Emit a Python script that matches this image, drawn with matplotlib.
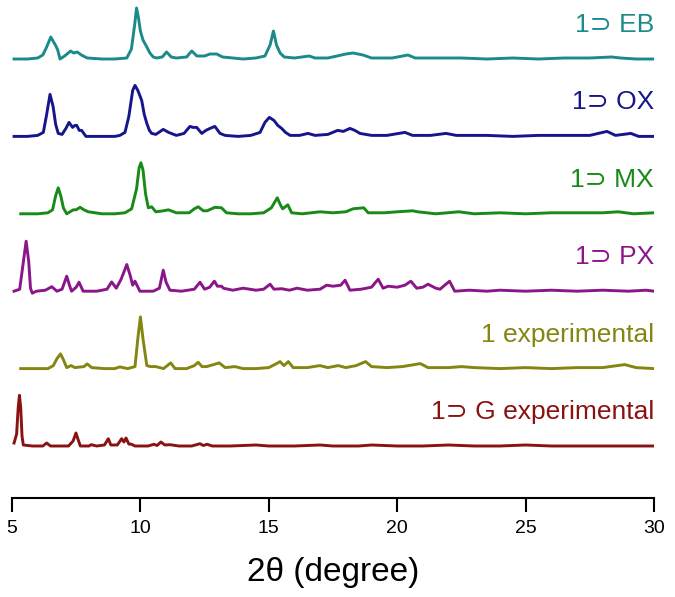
import matplotlib
matplotlib.use("Agg")
import matplotlib.pyplot as plt

plt.rcParams['font.family'] = ['Liberation Sans', 'DejaVu Sans']

# pattern labels, top to bottom
labels = ["1\u2283 EB", "1\u2283 OX", "1\u2283 MX", "1\u2283 PX", "1 experimental", "1\u2283 G experimental"]
colors = ["#1b8a8a", "#16168c", "#178a17", "#8a168a", "#858512", "#8a1212"]

# (2theta, intensity a.u.)
eb = [(5.08, 0), (5.6, 0), (6.0, 1), (6.2, 4), (6.35, 12), (6.51, 22), (6.62, 17), (6.71, 13), (6.78, 9),
      (6.87, 0), (7.05, 3), (7.28, 8), (7.4, 6), (7.54, 7), (7.7, 4), (7.93, 1), (8.5, 0), (9.0, 0),
      (9.47, 1), (9.65, 10), (9.78, 35), (9.85, 51), (9.92, 42), (10.0, 28), (10.1, 19), (10.25, 12),
      (10.37, 6), (10.5, 2), (10.63, 1), (10.85, 2), (11.02, 7), (11.2, 2), (11.4, 1), (11.8, 2), (12.0, 8),
      (12.2, 3), (12.5, 3), (12.71, 5), (12.97, 5), (13.2, 2), (13.6, 1), (14.0, 0), (14.5, 1), (14.85, 3),
      (15.05, 14), (15.18, 28), (15.3, 14), (15.44, 6), (15.6, 2), (16.0, 1), (16.57, 3), (16.8, 1),
      (17.3, 1), (17.66, 3), (18.0, 5), (18.28, 6), (18.67, 4), (19.0, 1), (19.8, 1), (20.42, 4), (20.7, 1),
      (21.5, 1), (22.5, 1), (23.5, 0), (24.5, 1), (25.5, 0), (26.5, 1), (27.5, 1), (28.35, 2), (28.7, 1),
      (29.3, 0), (30.0, 0)]

ox = [(5.08, 0), (5.6, 0), (6.0, 1), (6.22, 4), (6.35, 22), (6.48, 42), (6.6, 30), (6.7, 12), (6.8, 3),
      (6.95, 2), (7.1, 8), (7.22, 14), (7.36, 9), (7.45, 11), (7.52, 11), (7.62, 6), (7.71, 6), (7.88, 0),
      (8.5, 0), (9.0, 0), (9.2, 1), (9.4, 4), (9.55, 20), (9.7, 46), (9.79, 51), (9.9, 46), (10.05, 36),
      (10.15, 22), (10.25, 13), (10.35, 6), (10.44, 3), (10.6, 2), (10.89, 7), (11.1, 4), (11.4, 1),
      (11.7, 3), (11.93, 10), (12.05, 9), (12.19, 9), (12.39, 3), (12.55, 6), (12.71, 8), (12.9, 10),
      (13.1, 3), (13.3, 1), (13.8, 0), (14.3, 1), (14.66, 4), (14.85, 14), (15.02, 19), (15.2, 16),
      (15.35, 11), (15.5, 8), (15.65, 4), (15.83, 1), (16.2, 1), (16.53, 3), (16.8, 1), (17.3, 2),
      (17.68, 6), (17.9, 5), (18.16, 8), (18.35, 6), (18.55, 3), (19.0, 1), (19.6, 1), (20.3, 4), (20.6, 1),
      (21.3, 1), (21.9, 3), (22.3, 1), (23.5, 1), (24.5, 0), (25.5, 1), (26.5, 1), (27.5, 1), (28.17, 5),
      (28.5, 1), (29.1, 3), (29.4, 0), (30.0, 0)]

mx = [(5.34, 0), (6.0, 0), (6.4, 1), (6.58, 4), (6.7, 18), (6.8, 26), (6.9, 18), (7.0, 6), (7.13, 0),
      (7.39, 4), (7.5, 4), (7.65, 6.5), (7.8, 4), (7.97, 2), (8.5, 0), (9.0, 0), (9.4, 1), (9.66, 5),
      (9.85, 25), (9.95, 46), (10.02, 51), (10.1, 44), (10.2, 20), (10.31, 6), (10.44, 7), (10.6, 2),
      (10.9, 3), (11.09, 4), (11.4, 1), (11.9, 1), (12.1, 5), (12.25, 7), (12.45, 3), (12.6, 3), (12.9, 6.5),
      (13.16, 6), (13.35, 1), (13.8, 0), (14.3, 0), (14.8, 1), (15.1, 6), (15.33, 16), (15.45, 9),
      (15.54, 5), (15.74, 9), (15.89, 1), (16.3, 0), (17.0, 2), (17.5, 1), (18.0, 2), (18.28, 5),
      (18.7, 6), (18.87, 1), (19.5, 1), (20.0, 2), (20.6, 3), (20.8, 2), (21.5, 0), (22.4, 2), (23.0, 0),
      (24.0, 1), (25.0, 0), (26.0, 1), (27.0, 1), (28.0, 1), (28.6, 2), (29.2, 0), (30.0, 1)]

px = [(5.08, 0), (5.3, 2), (5.42, 25), (5.55, 50), (5.65, 30), (5.72, 3), (5.79, -2), (5.95, 0),
      (6.3, 1), (6.55, 4.5), (6.75, 0), (6.95, 2), (7.13, 15), (7.25, 5), (7.32, 0), (7.5, 4), (7.61, 9),
      (7.77, 0), (8.3, 0), (8.7, 2), (8.88, 9.3), (9.06, 3), (9.25, 12), (9.47, 26.7), (9.6, 16),
      (9.7, 6), (9.79, 10), (9.98, 0), (10.5, 0), (10.74, 3), (10.89, 21), (11.0, 9), (11.15, 1),
      (11.6, 0), (12.1, 2), (12.32, 9), (12.5, 2), (12.7, 4), (12.88, 10), (13.0, 5), (13.16, 5),
      (13.23, 3), (13.6, 1), (14.0, 3), (14.5, 1), (14.8, 2), (15.05, 7), (15.2, 2), (15.5, 2.5),
      (15.8, 1), (16.1, 3), (16.5, 1), (17.0, 2), (17.25, 6), (17.5, 5), (17.8, 6), (17.97, 11),
      (18.16, 1), (18.6, 2), (19.0, 4), (19.26, 12), (19.45, 3), (19.65, 5), (20.0, 4), (20.3, 6),
      (20.53, 10), (20.76, 3), (21.0, 4), (21.2, 7), (21.5, 3), (21.67, 2), (21.85, 6), (22.04, 10),
      (22.24, 0), (22.8, 1), (23.5, 0), (24.0, 1), (25.0, 0), (26.0, 1), (27.0, 0), (28.0, 1), (29.0, 0),
      (29.7, 1), (30.0, 0)]

exp1 = [(5.34, 0), (6.0, 0), (6.4, 0), (6.61, 3), (6.75, 10), (6.89, 14.7), (7.0, 9), (7.13, 1),
        (7.3, 3), (7.45, 1), (7.8, 2), (7.93, 4.7), (8.1, 1), (8.6, 0), (9.0, 0), (9.2, 1.7), (9.5, 0),
        (9.79, 2), (9.9, 30), (10.0, 51.7), (10.1, 30), (10.25, 3), (10.4, 2), (10.6, 2), (10.9, 0),
        (11.18, 5.7), (11.35, 0), (11.8, 0), (12.1, 3), (12.25, 6.3), (12.4, 2), (12.58, 2), (12.85, 4),
        (13.07, 5.7), (13.3, 1), (13.68, 2), (14.0, 0), (14.5, 0), (15.0, 1), (15.3, 5), (15.44, 7),
        (15.59, 3), (15.76, 7), (15.95, 1), (16.5, 1), (16.99, 3), (17.3, 1), (17.7, 3), (18.0, 1),
        (18.4, 3), (18.77, 7), (19.0, 2), (19.6, 1), (20.2, 2), (20.9, 5), (21.2, 1), (22.0, 1), (22.5, 2),
        (23.0, 1), (24.0, 0), (25.0, 1), (26.0, 0), (27.0, 1), (28.0, 1), (28.86, 4), (29.3, 1), (30.0, 0)]

guest = [(5.08, 3), (5.18, 12), (5.24, 38), (5.29, 50.7), (5.34, 38), (5.39, 10), (5.44, 1), (5.8, 0),
         (6.2, 0), (6.35, 3), (6.5, 0), (7.2, 0), (7.38, 5), (7.49, 13), (7.58, 6), (7.66, 0), (8.0, 0),
         (8.08, 1.3), (8.3, 0), (8.6, 1), (8.75, 7.3), (8.85, 1), (9.1, 1), (9.27, 7.3), (9.36, 4),
         (9.44, 8), (9.55, 2), (9.66, 1.7), (9.79, 0), (10.3, 0), (10.53, 1.7), (10.65, 0.5), (10.8, 4),
         (10.95, 1), (11.15, 1.3), (11.5, 0), (12.0, 0), (12.32, 2.3), (12.45, 0.5), (12.6, 1.7),
         (12.8, 0), (13.5, 0), (14.5, 1), (15.0, 0), (16.0, 0), (17.0, 1), (17.5, 0), (18.5, 0), (19.0, 1),
         (20.0, 0), (21.0, 0), (22.0, 1), (23.0, 0), (24.0, 0), (25.0, 1), (26.0, 0), (28.0, 0), (30.0, 0)]

patterns = [eb, ox, mx, px, exp1, guest]

fig = plt.figure(figsize=(6.75, 5.97), dpi=100)
ax = fig.add_axes([12 / 675, 99 / 597, 642 / 675, 498 / 597])

step = 77.4
n = len(patterns)
for i, (pat, lab, col) in enumerate(zip(patterns, labels, colors)):
    off = (n - 1 - i) * step
    xs = [p[0] for p in pat]
    ys = [p[1] + off for p in pat]
    ax.plot(xs, ys, color=col, lw=2.1, solid_joinstyle='round')
    ax.text(30, off + 27, lab, color=col, fontsize=19, ha='right', va='baseline')

ax.set_xlim(5, 30)
ax.set_ylim(-52, 446)
ax.set_xticks([5, 10, 15, 20, 25, 30])
ax.set_yticks([])
for s in ['top', 'right', 'left']:
    ax.spines[s].set_visible(False)
ax.spines['bottom'].set_linewidth(1.5)
ax.tick_params(axis='x', direction='out', length=10, width=1.5, labelsize=14, pad=6)
ax.set_xlabel("2\u03b8 (degree)", fontsize=24, labelpad=14)

fig.savefig("out.png", dpi=100)
